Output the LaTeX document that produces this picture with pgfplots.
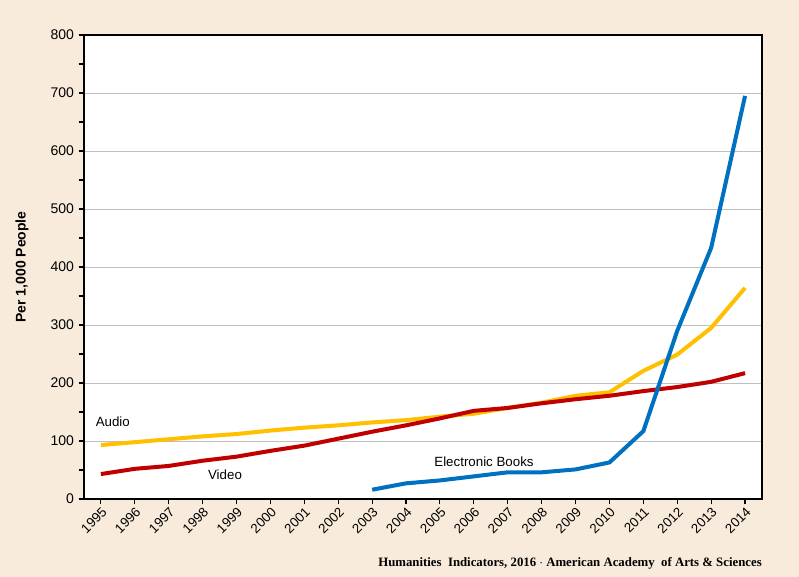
\documentclass[border=0pt]{standalone}
\usepackage{fontspec}
\setmainfont{Liberation Sans}
\newfontfamily\serifft{Liberation Serif}
\usepackage{pgfplots}
\pgfplotsset{compat=1.18}
\definecolor{bgcol}{HTML}{F8EBDB}
\definecolor{audiocol}{HTML}{FFC000}
\definecolor{videocol}{HTML}{C00000}
\definecolor{ebookcol}{HTML}{0070C0}
\definecolor{gridcol}{HTML}{BFBFBF}
\begin{document}
\begin{tikzpicture}
\fill[bgcol] (-63pt,-58.5pt) rectangle (536.25pt,374.25pt);
\begin{axis}[
    at={(0,0)}, anchor=south west,
    scale only axis,
    width=508.5pt, height=348pt,
    xmin=1994.5, xmax=2014.5,
    ymin=0, ymax=800,
    xtick={1995,...,2014},
    ytick={0,100,...,800},
    minor ytick={50,150,...,750},
    xticklabel style={rotate=45, anchor=north east, font=\fontsize{10}{11}\selectfont, inner sep=1pt},
    yticklabel style={font=\fontsize{10.5}{11}\selectfont},
    /pgf/number format/assume math mode=true,
    /pgf/number format/1000 sep={},
    ymajorgrids,
    major grid style={gridcol, line width=0.7pt},
    tick style={black, line width=0.8pt},
    major tick length=4pt, minor tick length=4pt,
    xtick pos=bottom, ytick pos=left,
    tick align=outside,
    axis line style={black, line width=0.9pt},
    axis background/.style={fill=white},
    clip=false,
]
\addplot[audiocol, line width=3pt] coordinates {
(1995,93) (1996,98) (1997,103) (1998,108) (1999,112) (2000,118) (2001,123) (2002,127) (2003,132) (2004,136)
(2005,142) (2006,147) (2007,157) (2008,166) (2009,178) (2010,184) (2011,221) (2012,249) (2013,295) (2014,364)};
\addplot[videocol, line width=3pt] coordinates {
(1995,43) (1996,52) (1997,57) (1998,66) (1999,73) (2000,83) (2001,92) (2002,104) (2003,116) (2004,127)
(2005,139) (2006,152) (2007,157) (2008,165) (2009,172) (2010,178) (2011,186) (2012,193) (2013,202) (2014,217)};
\addplot[ebookcol, line width=3pt] coordinates {
(2003,16) (2004,27) (2005,32) (2006,39) (2007,46) (2008,46) (2009,51) (2010,63) (2011,117) (2012,290) (2013,433) (2014,695)};
\node[font=\fontsize{10}{11}\selectfont] at (axis cs:1995.35,134) {Audio};
\node[font=\fontsize{10}{11}\selectfont] at (axis cs:1998.66,41) {Video};
\node[font=\fontsize{10}{11}\selectfont] at (axis cs:2006.3,64) {Electronic Books};
\end{axis}
\node[rotate=90, font=\bfseries\fontsize{10.5}{11}\selectfont] at (-46.5pt,174pt) {Per 1,000 People};
\node[anchor=east, font=\serifft\bfseries\fontsize{9.6}{10}\selectfont, inner sep=0pt] at (508.5pt,-48pt) {Humanities\ \ Indicators, 2016 $\cdot$ American Academy\ \ of Arts \& Sciences};
\end{tikzpicture}
\end{document}
